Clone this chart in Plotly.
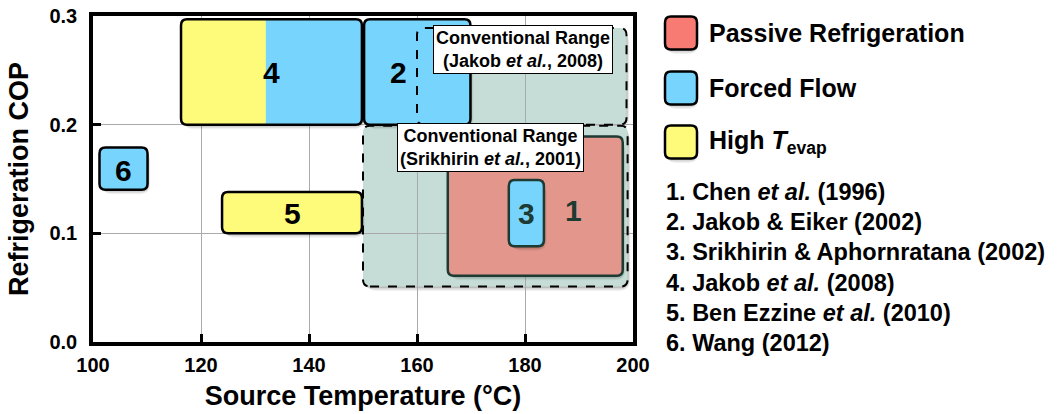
import plotly.graph_objects as go

# ---------------- data ----------------
studies = ["1", "2", "3", "4", "5", "6"]
study_kind = ["passive", "forced", "forced", "mixed", "hightevap", "forced"]
t_lo = [165.7, 150.2, 177.0, 116.3, 123.9, 101.2]
t_hi = [198.1, 169.9, 183.5, 149.8, 149.8, 110.1]
cop_lo = [0.061, 0.200, 0.088, 0.200, 0.100, 0.140]
cop_hi = [0.189, 0.297, 0.149, 0.297, 0.138, 0.179]
split_t4 = 132.0   # study 4: High T_evap below, Forced Flow above this temperature
label_t = [189.0, 156.5, 180.3, 133.0, 137.0, 105.6]
label_cop = [0.121, 0.248, 0.118, 0.248, 0.118, 0.158]

conv_names = ["Conventional Range<br>(Jakob <i>et al.</i>, 2008)",
              "Conventional Range<br>(Srikhirin <i>et al.</i>, 2001)"]
conv_t_lo = [160.0, 150.0]
conv_t_hi = [198.8, 199.0]
conv_cop_lo = [0.200, 0.051]
conv_cop_hi = [0.289, 0.199]
conv_label_t = [179.6, 173.7]
conv_label_cop = [0.269, 0.179]

legend_names = ["Passive Refrigeration", "Forced Flow", "High <i>T</i><sub>evap</sub>"]
legend_kind = ["passive_legend", "forced", "hightevap"]
references = [
    "1. Chen <i>et al.</i> (1996)",
    "2. Jakob &amp; Eiker (2002)",
    "3. Srikhirin &amp; Aphornratana (2002)",
    "4. Jakob <i>et al.</i> (2008)",
    "5. Ben Ezzine <i>et al.</i> (2010)",
    "6. Wang (2012)",
]
x_ticks = [100, 120, 140, 160, 180, 200]
y_ticks = [0.0, 0.1, 0.2, 0.3]

# ---------------- style ----------------
FILL = {"passive": "#e3968b", "passive_legend": "#f77b73", "forced": "#77d5fd",
        "hightevap": "#fefb7b", "mixed": "#77d5fd"}
EDGE_DARK = "#1d3a33"
TEAL = "#c5ddd6"
FONT = "Liberation Sans, Arial, sans-serif"

W, H = 1057, 414
ML, MR, MT, MB = 93, 424, 16, 72
PW, PH = W - ML - MR, H - MT - MB
XR = [x_ticks[0], x_ticks[-1]]
YR = [y_ticks[0], y_ticks[-1]]
SX = PW / (XR[1] - XR[0])
SY = PH / (YR[1] - YR[0])


def rr_path(x0, x1, y0, y1, rx, ry, left=True, right=True):
    p = []
    if left:
        p.append(f"M {x0+rx},{y0}")
    else:
        p.append(f"M {x0},{y0}")
    if right:
        p.append(f"L {x1-rx},{y0} Q {x1},{y0} {x1},{y0+ry} L {x1},{y1-ry} Q {x1},{y1} {x1-rx},{y1}")
    else:
        p.append(f"L {x1},{y0} L {x1},{y1}")
    if left:
        p.append(f"L {x0+rx},{y1} Q {x0},{y1} {x0},{y1-ry} L {x0},{y0+ry} Q {x0},{y0} {x0+rx},{y0}")
    else:
        p.append(f"L {x0},{y1}")
    p.append("Z")
    return " ".join(p)


def data_rr(x0, x1, y0, y1, rpx, **kw):
    return rr_path(x0, x1, y0, y1, rpx / SX, rpx / SY, **kw)


shapes = []


def add_shadow(x0, x1, y0, y1, rpx, layer="above", ref="data"):
    for off, alpha in [(4.5, 0.06), (3.0, 0.10), (1.5, 0.12)]:
        if ref == "data":
            dx, dy = off * 0.6 / SX, -off / SY
            path = data_rr(x0 + dx, x1 + dx, y0 + dy, y1 + dy, rpx + off)
            shapes.append(dict(type="path", path=path, xref="x", yref="y",
                               fillcolor=f"rgba(0,0,0,{alpha})", line=dict(width=0), layer=layer))
        else:
            dx, dy = off * 0.3 / PW, -off / PH
            path = rr_path(x0 + dx, x1 + dx, y0 + dy, y1 + dy, (rpx + off) / PW, (rpx + off) / PH)
            shapes.append(dict(type="path", path=path, xref="paper", yref="paper",
                               fillcolor=f"rgba(0,0,0,{alpha})", line=dict(width=0), layer=layer))


# conventional ranges: fills below gridlines
for i in range(len(conv_names)):
    add_shadow(conv_t_lo[i], conv_t_hi[i], conv_cop_lo[i], conv_cop_hi[i], 7, layer="below")
for i in range(len(conv_names)):
    shapes.append(dict(type="path", xref="x", yref="y", layer="below",
                       path=data_rr(conv_t_lo[i], conv_t_hi[i], conv_cop_lo[i], conv_cop_hi[i], 7),
                       fillcolor=TEAL, line=dict(width=0)))

# study boxes
for i, s in enumerate(studies):
    x0, x1, y0, y1 = t_lo[i], t_hi[i], cop_lo[i], cop_hi[i]
    kind = study_kind[i]
    edge = EDGE_DARK if kind == "passive" or (x0 > conv_t_lo[1] and y1 < conv_cop_hi[1]) else "black"
    add_shadow(x0, x1, y0, y1, 6)
    shapes.append(dict(type="path", xref="x", yref="y", layer="above",
                       path=data_rr(x0, x1, y0, y1, 6),
                       fillcolor=FILL[kind], line=dict(width=0)))
    if kind == "mixed":
        shapes.append(dict(type="path", xref="x", yref="y", layer="above",
                           path=data_rr(x0, split_t4, y0, y1, 6, right=False),
                           fillcolor=FILL["hightevap"], line=dict(width=0)))
    shapes.append(dict(type="path", xref="x", yref="y", layer="above",
                       path=data_rr(x0, x1, y0, y1, 6),
                       fillcolor="rgba(0,0,0,0)", line=dict(color=edge, width=2.5)))

# conventional ranges: dashed outlines on top
for i in range(len(conv_names)):
    shapes.append(dict(type="path", xref="x", yref="y", layer="above",
                       path=data_rr(conv_t_lo[i], conv_t_hi[i], conv_cop_lo[i], conv_cop_hi[i], 7),
                       fillcolor="rgba(0,0,0,0)", line=dict(color="black", width=2, dash="dash")))

annotations = []
for i, s in enumerate(studies):
    dark = study_kind[i] == "passive" or (t_lo[i] > conv_t_lo[1] and cop_hi[i] < conv_cop_hi[1])
    annotations.append(dict(x=label_t[i], y=label_cop[i], xref="x", yref="y", text=s,
                            showarrow=False,
                            font=dict(family=FONT, size=30, weight="bold",
                                      color=EDGE_DARK if dark else "black")))
for i, t in enumerate(conv_names):
    annotations.append(dict(x=conv_label_t[i], y=conv_label_cop[i], xref="x", yref="y", text=t,
                            showarrow=False, bgcolor="white", bordercolor="black", borderwidth=1,
                            borderpad=2, font=dict(family=FONT, size=18, weight="bold",
                                                   color="black")))


def px2paper(px, py):
    return (px - ML) / PW, (H - MB - py) / PH


# legend
leg_cy = [33, 88, 142]
for i, name in enumerate(legend_names):
    x0, y1 = px2paper(665, leg_cy[i] - 16.5)
    x1, y0 = px2paper(697, leg_cy[i] + 16.5)
    add_shadow(x0, x1, y0, y1, 6, ref="paper")
    shapes.append(dict(type="path", xref="paper", yref="paper", layer="above",
                       path=rr_path(x0, x1, y0, y1, 6 / PW, 6 / PH),
                       fillcolor=FILL[legend_kind[i]], line=dict(color="black", width=2.5)))
    tx, ty = px2paper(707, leg_cy[i])
    annotations.append(dict(x=tx, y=ty, xref="paper", yref="paper", text=name,
                            xanchor="left", yanchor="middle", showarrow=False,
                            font=dict(family=FONT, size=25, weight="bold", color="black")))

for i, r in enumerate(references):
    tx, ty = px2paper(664, 192 + 30.2 * i)
    annotations.append(dict(x=tx, y=ty, xref="paper", yref="paper", text=r,
                            xanchor="left", yanchor="middle", showarrow=False,
                            font=dict(family=FONT, size=23.5, weight="bold", color="black")))

fig = go.Figure()
fig.update_layout(
    width=W, height=H, margin=dict(l=ML, r=MR, t=MT, b=MB, autoexpand=False),
    plot_bgcolor="white", paper_bgcolor="white", showlegend=False,
    shapes=shapes, annotations=annotations,
    xaxis=dict(range=XR, tickvals=x_ticks, ticktext=[str(v) for v in x_ticks],
               automargin=False,
               showgrid=True, gridcolor="#aaaaaa", gridwidth=1, zeroline=False,
               showline=True, linecolor="black", linewidth=3.5, mirror=True,
               ticks="inside", ticklen=8, tickwidth=2.5, tickcolor="black",
               ticklabelstandoff=2,
               tickfont=dict(family=FONT, size=20, weight="bold", color="black"),
               title=dict(text="Source Temperature (°C)", standoff=12,
                          font=dict(family=FONT, size=27, weight="bold", color="black"))),
    yaxis=dict(range=YR, tickvals=y_ticks, ticktext=[f"{v:.1f}" for v in y_ticks],
               automargin=False,
               showgrid=True, gridcolor="#aaaaaa", gridwidth=1, zeroline=False,
               showline=True, linecolor="black", linewidth=3.5, mirror=True,
               ticks="inside", ticklen=8, tickwidth=2.5, tickcolor="black",
               ticklabelstandoff=8,
               tickfont=dict(family=FONT, size=20, weight="bold", color="black"),
               title=dict(text="Refrigeration COP", standoff=14,
                          font=dict(family=FONT, size=27, weight="bold", color="black"))),
)
fig.write_html("out.html", config={"displayModeBar": False},
               post_script="document.body.style.margin='0px';document.body.style.padding='0px';")
